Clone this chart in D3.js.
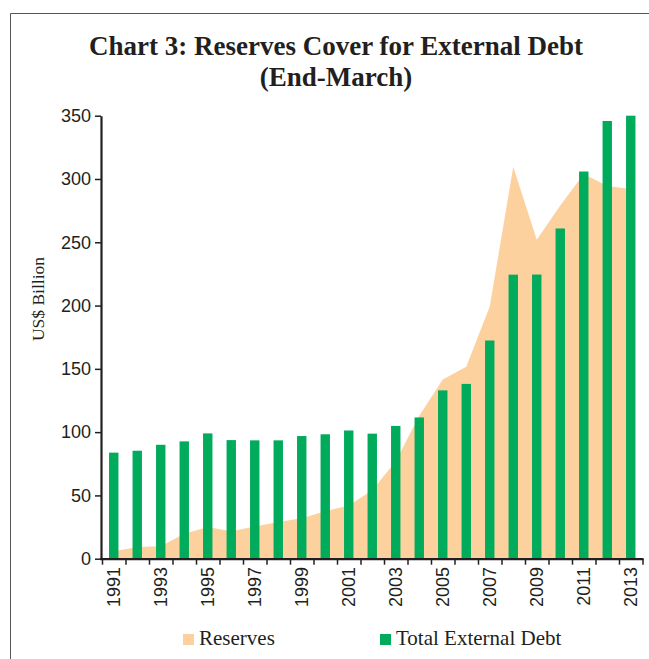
<!DOCTYPE html>
<html>
<head>
<meta charset="utf-8">
<script src="https://cdn.jsdelivr.net/npm/d3@7"></script>
<style>
  body { margin: 0; background: #fff; }
  svg { display: block; }
</style>
</head>
<body>
<div id="chart"></div>
<script>
// Reserves cover for external debt, end-March, US$ billion

const years = d3.range(1991, 2014);
const reserves = [5.8, 9.2, 9.8, 19.8, 25.0, 21.7, 25.5, 29.0, 32.0, 37.5, 42.0, 54.1, 77.0, 113.0, 141.5, 151.6, 199.2, 309.7, 252.0, 279.1, 304.0, 294.4, 292.0];
const externalDebt = [83.8, 85.3, 90.0, 92.7, 99.0, 93.7, 93.5, 93.5, 96.9, 98.3, 101.3, 98.8, 104.9, 111.6, 133.0, 138.1, 172.4, 224.4, 224.5, 260.9, 305.9, 345.8, 350];
const yTicks = [0, 50, 100, 150, 200, 250, 300, 350];

const W = 649, H = 659;
const svg = d3.select("#chart").append("svg")
  .attr("width", W)
  .attr("height", H);

// frame
svg.append("path")
  .attr("d", `M10.5,${H} V13.5 H${W}`)
  .attr("fill", "none")
  .attr("stroke", "#555")
  .attr("stroke-width", 1);

// title
const title = svg.append("text")
  .attr("text-anchor", "middle")
  .attr("font-family", "Liberation Serif, serif")
  .attr("font-weight", "bold")
  .attr("font-size", 27)
  .attr("fill", "#231f20");
title.append("tspan").attr("x", 336).attr("y", 55).text("Chart 3: Reserves Cover for External Debt");
title.append("tspan").attr("x", 336).attr("y", 86).text("(End-March)");

const x = d3.scaleBand()
  .domain(years)
  .range([102, 642.5])
  .padding(0);

const xTickScale = d3.scaleLinear()
  .domain([0, years.length])
  .range([102, 642.5]);

const y = d3.scaleLinear()
  .domain([0, 350])
  .range([558.7, 115.7]);

const cx = d => x(d) + x.bandwidth() / 2;

// reserves area
const area = d3.area()
  .x((d, i) => cx(years[i]))
  .y0(y(0))
  .y1(d => y(d));

svg.append("path")
  .datum(reserves)
  .attr("d", area)
  .attr("fill", "#fdd19e");

// debt bars
const barW = x.bandwidth() * 0.4;
svg.append("g")
  .selectAll("rect")
  .data(externalDebt)
  .join("rect")
    .attr("x", (d, i) => cx(years[i]) - barW / 2)
    .attr("y", d => y(d))
    .attr("width", barW)
    .attr("height", d => y(0) - y(d))
    .attr("fill", "#00ab5b");

// y axis
const yAxis = svg.append("g")
  .attr("transform", "translate(101,0)")
  .call(d3.axisLeft(y).tickValues(yTicks).tickSize(6).tickSizeOuter(0).tickPadding(4));
yAxis.select(".domain").attr("stroke", "#231f20").attr("stroke-width", 2.2);
yAxis.selectAll(".tick line").attr("stroke", "#231f20").attr("stroke-width", 1.5);
yAxis.selectAll(".tick text")
  .attr("font-family", "Liberation Sans, sans-serif")
  .attr("font-size", 18)
  .attr("fill", "#231f20");

// x axis
const xAxis = svg.append("g")
  .attr("transform", `translate(0,${y(0)})`)
  .call(d3.axisBottom(xTickScale).tickValues(d3.range(years.length + 1)).tickFormat("").tickSize(6).tickSizeOuter(0));
xAxis.select(".domain").attr("stroke", "#231f20").attr("stroke-width", 2.2)
  .attr("d", `M100,0.5H643.5`);
xAxis.selectAll(".tick line").attr("stroke", "#231f20").attr("stroke-width", 1.5);

svg.append("g")
  .selectAll("text")
  .data(years.filter(d => d % 2 === 1))
  .join("text")
    .attr("transform", d => `translate(${cx(d) + 6},567) rotate(-90)`)
    .attr("text-anchor", "end")
    .attr("font-family", "Liberation Sans, sans-serif")
    .attr("font-size", 18)
    .attr("fill", "#231f20")
    .text(d => d);

// y label
svg.append("text")
  .attr("transform", "translate(44,299) rotate(-90)")
  .attr("text-anchor", "middle")
  .attr("font-family", "Liberation Serif, serif")
  .attr("font-size", 17.5)
  .attr("fill", "#231f20")
  .text("US$ Billion");

// legend
const legend = [
  { label: "Reserves", color: "#fdd19e", x: 183 },
  { label: "Total External Debt", color: "#00ab5b", x: 380 }
];
const lg = svg.append("g")
  .selectAll("g")
  .data(legend)
  .join("g")
    .attr("transform", d => `translate(${d.x},634)`);
lg.append("rect")
  .attr("width", 11)
  .attr("height", 11)
  .attr("fill", d => d.color);
lg.append("text")
  .attr("x", 16)
  .attr("y", 11)
  .attr("font-family", "Liberation Serif, serif")
  .attr("font-size", 21)
  .attr("fill", "#231f20")
  .text(d => d.label);
</script>
</body>
</html>
